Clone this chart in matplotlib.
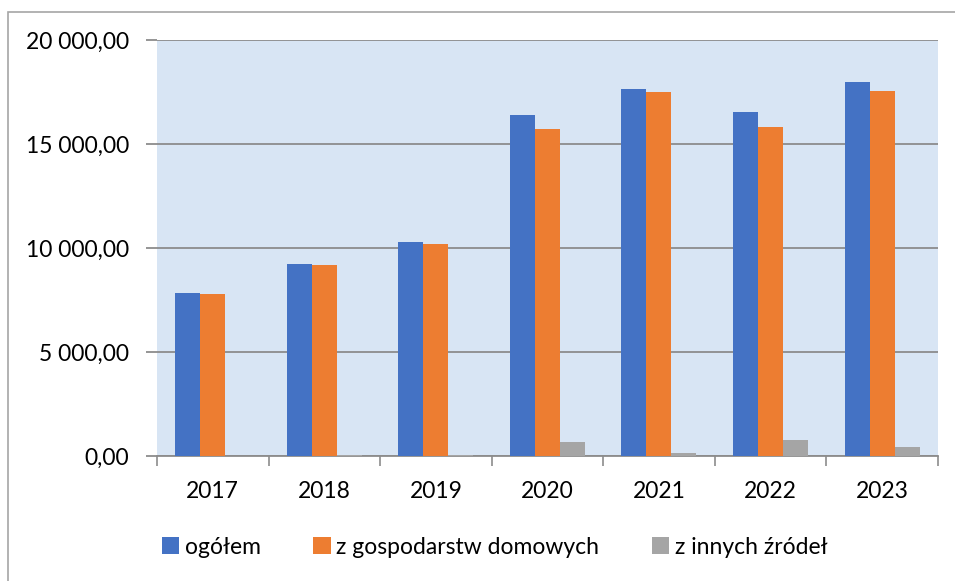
import matplotlib
matplotlib.use("Agg")
import matplotlib.pyplot as plt
import numpy as np
from matplotlib.patches import Patch, Rectangle
from matplotlib.ticker import FuncFormatter

years = ["2017", "2018", "2019", "2020", "2021", "2022", "2023"]
ogolem = [7830, 9255, 10285, 16410, 17645, 16555, 17965]
gosp_domowe = [7800, 9210, 10220, 15740, 17500, 15800, 17535]
inne_zrodla = [0, 50, 60, 675, 160, 755, 435]

series_labels = ["ogółem", "z gospodarstw domowych", "z innych źródeł"]
colors = ["#4472C4", "#ED7D31", "#A5A5A5"]


def pl_format(value, pos):
    # 20000 -> "20 000,00"
    s = f"{value:,.2f}"
    return s.replace(",", " ").replace(".", ",")


def main():
    plt.rcParams["font.family"] = ["Lato", "DejaVu Sans"]

    fig = plt.figure(figsize=(9.55, 5.81), dpi=100)
    ax = fig.add_axes([0.1644, 0.215, 0.8176, 0.716])
    ax.set_facecolor("#d8e5f4")

    x = np.arange(len(years))
    width = 0.224
    for i, (vals, label) in enumerate(zip([ogolem, gosp_domowe, inne_zrodla], series_labels)):
        ax.bar(x + (i - 1) * width, vals, width, color=colors[i], label=label, zorder=3)

    ax.set_xlim(-0.5, len(years) - 0.5)
    ax.set_ylim(0, 20000)
    ax.set_yticks(np.arange(0, 20001, 5000))
    ax.yaxis.set_major_formatter(FuncFormatter(pl_format))
    ax.grid(axis="y", color="#8c8c8c", linewidth=1.3, zorder=1)
    ax.set_axisbelow(True)

    for side in ["top", "right", "left"]:
        ax.spines[side].set_visible(False)
    ax.spines["bottom"].set_color("#8c8c8c")
    ax.spines["bottom"].set_linewidth(1.3)

    ax.set_xticks(x)
    ax.set_xticklabels(years)
    ax.set_xticks(np.arange(-0.5, len(years)), minor=True)
    ax.tick_params(axis="x", which="major", length=0, pad=18, labelsize=16.5)
    ax.tick_params(axis="x", which="minor", length=7, color="#8c8c8c", width=1.2)
    ax.tick_params(axis="y", length=8, color="#8c8c8c", width=1.3, labelsize=16.5, pad=12)

    handles = [Patch(facecolor=c) for c in colors]
    fig.legend(handles, series_labels, loc="center", bbox_to_anchor=(0.518, 0.058), ncol=3,
               frameon=False, fontsize=16.5, handlelength=0.75, handleheight=0.75,
               handletextpad=0.25, columnspacing=2.3)

    # outer chart frame
    fig.patches.append(Rectangle((0.0085, -0.01), 1.0, 0.99, transform=fig.transFigure,
                                 fill=False, edgecolor="#a6a6a6", linewidth=1.2))

    fig.savefig("out.png", dpi=100)


if __name__ == "__main__":
    main()
